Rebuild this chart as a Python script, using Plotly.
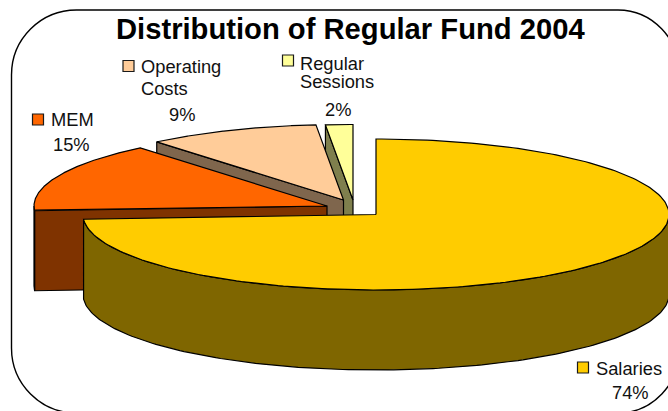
import numpy as np
import plotly.graph_objects as go

# Data (draw order: Salaries first clockwise from 12 o'clock)
categories = ["Salaries", "MEM", "Operating Costs", "Regular Sessions"]
shares = [74.0, 15.0, 9.5, 1.5]
share_labels = ["74%", "15%", "9%", "2%"]
title_text = "Distribution of Regular Fund 2004"

# Style
top_colors = ["#FFCC00", "#FF6600", "#FFCC99", "#FFFF99"]
side_colors = ["#7F6600", "#7F3300", "#7F664D", "#7F7F4D"]
apex = [(376, 214.5), (327, 206), (343.5, 200), (353, 200)]  # exploded centres
RX, RY, DEPTH = 293, 75.5, 80
W, H = 668, 411


def rim(c, t):
    return c[0] + RX * np.sin(t), c[1] - RY * np.cos(t)


def poly(fig, xs, ys, color, lw=1.2):
    fig.add_trace(go.Scatter(x=list(xs), y=list(ys), mode="lines", fill="toself",
                             fillcolor=color, line=dict(color="#000000", width=lw),
                             hoverinfo="skip", showlegend=False))


fig = go.Figure()

edges = np.concatenate([[0], np.cumsum(shares)]) / sum(shares) * 2 * np.pi
for i in reversed(range(len(shares))):
    c = apex[i]
    a0, a1 = edges[i], edges[i + 1]

    # leading cut face (visible for the slices left of the vertical)
    if i > 0:
        rx0, ry0 = rim(c, a0)
        poly(fig, [rx0, rx0, c[0], c[0], rx0],
             [ry0, ry0 + DEPTH, c[1] + DEPTH, c[1], ry0], side_colors[i])

    # outer wall for the front half of the ellipse
    lo, hi = max(a0, np.pi / 2), min(a1, 3 * np.pi / 2)
    if hi > lo:
        t = np.linspace(lo, hi, 160)
        ax, ay = rim(c, t)
        poly(fig, np.r_[ax, ax[::-1], ax[0]], np.r_[ay, ay[::-1] + DEPTH, ay[0]], side_colors[i])

    # top face
    t = np.linspace(a0, a1, 240)
    ax, ay = rim(c, t)
    poly(fig, np.r_[c[0], ax, c[0]], np.r_[c[1], ay, c[1]], top_colors[i])

# Legend keys and labels, positioned as in the chart
key_pos = [(583, 367.5), (38, 119.5), (128.5, 66), (288, 60.5)]
fig.add_trace(go.Scatter(x=[p[0] for p in key_pos], y=[p[1] for p in key_pos], mode="markers",
                         marker=dict(symbol="square", size=11, color=top_colors,
                                     line=dict(color="#1a1a1a", width=1.2)),
                         hoverinfo="skip", showlegend=False))

FONT = "Liberation Sans, Arial, sans-serif"
label_lines = [
    ("Salaries", 596, 368.5, "left"), (share_labels[0], 630, 392, "center"),
    ("MEM", 50.5, 119.5, "left"), (share_labels[1], 71.5, 144, "center"),
    ("Operating", 140.5, 66.5, "left"), ("Costs", 140.5, 88, "left"), (share_labels[2], 182, 114, "center"),
    ("Regular", 299.5, 63, "left"), ("Sessions", 299.5, 81, "left"), (share_labels[3], 338, 109, "center"),
]
annotations = [dict(x=x, y=y, xref="x", yref="y", text=s, showarrow=False, xanchor=a, yanchor="middle",
                    borderpad=0, borderwidth=0, font=dict(family=FONT, size=18.3, color="#111111"))
               for s, x, y, a in label_lines]
annotations.append(dict(x=350.5, y=29, xref="x", yref="y", text="<b>%s</b>" % title_text, showarrow=False,
                        xanchor="center", yanchor="middle", font=dict(family=FONT, size=29.2, color="#000000")))

# Rounded frame running off the canvas on the right and bottom
L, T, Rr, B = 11.5, 10, 680, 413
r, k = 65, 0.5523
rr = 62
frame = (f"M {L + r},{T} L {Rr - rr},{T} "
         f"C {Rr - rr + k * rr},{T} {Rr},{T + r - k * r} {Rr},{T + r} "
         f"L {Rr},{B - r} C {Rr},{B - r + k * r} {Rr - rr + k * rr},{B} {Rr - rr},{B} "
         f"L {L + r},{B} C {L + r - k * r},{B} {L},{B - r + k * r} {L},{B - r} "
         f"L {L},{T + r} C {L},{T + r - k * r} {L + r - k * r},{T} {L + r},{T} Z")

fig.update_layout(
    width=W, height=H, margin=dict(l=0, r=0, t=0, b=0), autosize=False,
    paper_bgcolor="#FFFFFF", plot_bgcolor="#FFFFFF", showlegend=False,
    xaxis=dict(range=[0, W], visible=False, fixedrange=True),
    yaxis=dict(range=[H, 0], visible=False, fixedrange=True),
    annotations=annotations,
    shapes=[dict(type="path", path=frame, xref="x", yref="y", layer="below",
                 line=dict(color="#000000", width=1.4))],
)
fig.write_html("out.html", config={"displayModeBar": False},
               post_script="document.documentElement.style.overflow='hidden';document.body.style.margin='0';")
